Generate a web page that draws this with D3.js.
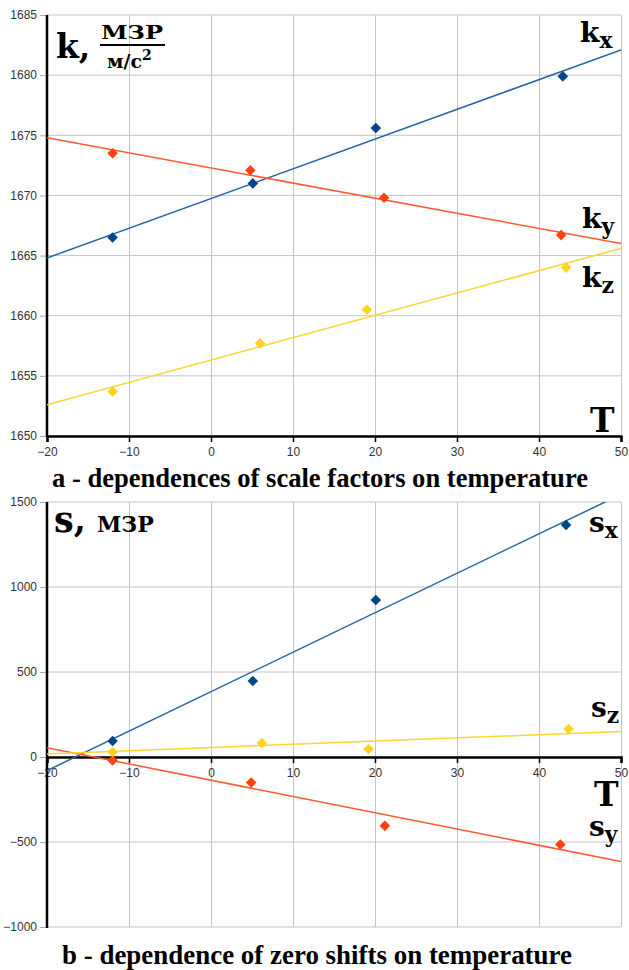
<!DOCTYPE html>
<html>
<head>
<meta charset="utf-8">
<script src="https://cdn.jsdelivr.net/npm/d3@7"></script>
<style>
  body { margin: 0; background: #fff; }
  .tick_label { font-family: "Liberation Sans", Arial, sans-serif; font-size: 12px; fill: #333; }
  .big_label { font-family: "DejaVu Serif", serif; font-weight: bold; fill: #000; }
  .caption { font-family: "Liberation Serif", "Times New Roman", serif; font-weight: bold; fill: #000; }
</style>
</head>
<body>
<div id="scale_zero_charts"></div>
<script>
// temperature axis, shared by both panels
var tempTicks = [-20, -10, 0, 10, 20, 30, 40, 50];
var trendT = [-20, 50];

// panel a - scale factors k (МЗР / м/с2)
var kTicks = [1650, 1655, 1660, 1665, 1670, 1675, 1680, 1685];
var kxT = [-12, 5.1, 20.1, 42.9];
var kxVal = [1666.5, 1671.0, 1675.6, 1679.9];
var kyT = [-12, 4.8, 21.1, 42.7];
var kyVal = [1673.5, 1672.1, 1669.8, 1666.7];
var kzT = [-12, 6.0, 19.0, 43.3];
var kzVal = [1653.7, 1657.7, 1660.5, 1664.0];
var kxTrend = [1664.8, 1682.1];
var kyTrend = [1674.8, 1666.0];
var kzTrend = [1652.6, 1665.6];

// panel b - zero shifts s (МЗР)
var sTicks = [-1000, -500, 0, 500, 1000, 1500];
var sxT = [-12, 5.1, 20.1, 43.3];
var sxVal = [94, 447, 924, 1365];
var syT = [-12, 4.9, 21.2, 42.6];
var syVal = [-20, -150, -405, -515];
var szT = [-12, 6.2, 19.2, 43.6];
var szVal = [29, 82, 47, 165];
var sxTrend = [-80, 1545];
var syTrend = [55, -615];
var szTrend = [18, 150];

var colors = {x: "#004586", y: "#ff420e", z: "#ffd320"};
var lineColors = {x: "#2863a3", y: "#ff5a2e", z: "#ffd62e"};

var svg = d3.select("#scale_zero_charts").append("svg")
    .attr("width", 629)
    .attr("height", 970);

function draw_panel(id, box, yTicks, zeroAxis, series) {
    var x = d3.scaleLinear().domain([-20, 50]).range([box.left, box.right]);
    var y = d3.scaleLinear().domain([yTicks[0], yTicks[yTicks.length-1]]).range([box.bottom, box.top]);
    var g = svg.append("g").attr("class", id);

    // grid
    g.append("g")
        .attr("transform", "translate(0," + box.bottom + ")")
        .call(d3.axisBottom(x).tickValues(tempTicks).tickSize(-(box.bottom - box.top)).tickFormat(""))
        .call(function(a) { a.select(".domain").remove(); })
        .selectAll("line").attr("stroke", "#c4c4c4");
    g.append("g")
        .attr("transform", "translate(" + box.left + ",0)")
        .call(d3.axisLeft(y).tickValues(yTicks).tickSize(7).tickFormat(d3.format("d")).tickPadding(3))
        .call(function(a) { a.select(".domain").remove(); })
        .call(function(a) { a.selectAll("line").attr("stroke", "#aaa"); })
        .call(function(a) {
            a.selectAll("text").attr("class", "tick_label").attr("font-size", null).attr("font-family", null);
        });
    g.append("g")
        .call(function(s) {
            s.selectAll("line").data(yTicks).enter().append("line")
                .attr("x1", box.left).attr("x2", box.right)
                .attr("y1", function(d) { return y(d); }).attr("y2", function(d) { return y(d); })
                .attr("stroke", "#c4c4c4");
        });

    // x axis (black) at the zero / bottom line
    var axisY = y(zeroAxis);
    g.append("g")
        .attr("transform", "translate(0," + axisY + ")")
        .call(d3.axisBottom(x).tickValues(tempTicks).tickSize(6).tickPadding(5).tickFormat(d3.format("d")))
        .call(function(a) { a.select(".domain").attr("stroke", "#000").attr("stroke-width", 2.5); })
        .call(function(a) { a.selectAll("line").attr("stroke", "#000").attr("stroke-width", 1.5); })
        .call(function(a) {
            a.selectAll("text").attr("class", "tick_label").attr("font-size", null).attr("font-family", null);
        });

    // y axis
    g.append("line")
        .attr("x1", box.left).attr("x2", box.left)
        .attr("y1", box.top).attr("y2", box.bottom + 1)
        .attr("stroke", "#000").attr("stroke-width", 2.5);

    g.append("clipPath").attr("id", id + "_clip")
      .append("rect")
        .attr("x", box.left).attr("y", box.top)
        .attr("width", box.right - box.left).attr("height", box.bottom - box.top);

    series.forEach(function(s) {
        g.append("line")
            .attr("clip-path", "url(#" + id + "_clip)")
            .attr("x1", x(trendT[0])).attr("y1", y(s.trend[0]))
            .attr("x2", x(trendT[1])).attr("y2", y(s.trend[1]))
            .attr("stroke", lineColors[s.key])
            .attr("stroke-width", 1.5);
    });
    series.forEach(function(s) {
        g.selectAll(".dot_" + s.key)
            .data(s.t)
          .enter().append("path")
            .attr("d", d3.symbol().type(d3.symbolSquare).size(56))
            .attr("transform", function(d, i) {
                return "translate(" + x(d) + "," + y(s.v[i]) + ") rotate(45)";
            })
            .attr("fill", colors[s.key]);
    });
}

draw_panel("panel_a", {left: 47, right: 621, top: 15, bottom: 436}, kTicks, 1650, [
    {key: "x", t: kxT, v: kxVal, trend: kxTrend},
    {key: "y", t: kyT, v: kyVal, trend: kyTrend},
    {key: "z", t: kzT, v: kzVal, trend: kzTrend}
]);
draw_panel("panel_b", {left: 47, right: 621, top: 502, bottom: 927}, sTicks, 0, [
    {key: "x", t: sxT, v: sxVal, trend: sxTrend},
    {key: "y", t: syT, v: syVal, trend: syTrend},
    {key: "z", t: szT, v: szVal, trend: szTrend}
]);

// series labels like k with subscript x
function sub_label(x, y, main, sub, size) {
    var t = svg.append("text").attr("class", "big_label")
        .attr("x", x).attr("y", y).style("font-size", size + "px");
    t.append("tspan").text(main);
    t.append("tspan").text(sub).attr("dy", size * 0.2).style("font-size", (size * 0.78) + "px");
}

sub_label(580, 42, "k", "x", 28);
sub_label(582, 228, "k", "y", 28);
sub_label(582, 287, "k", "z", 28);
sub_label(589, 532, "s", "x", 28);
sub_label(591, 717, "s", "z", 28);
sub_label(589, 836, "s", "y", 28);

svg.append("text").attr("class", "big_label").attr("x", 590).attr("y", 432).style("font-size", "33px").text("T");
svg.append("text").attr("class", "big_label").attr("x", 594).attr("y", 806).style("font-size", "33px").text("T");

// unit labels
svg.append("text").attr("class", "big_label").attr("x", 56).attr("y", 58).style("font-size", "33px").text("k,");
svg.append("text").attr("class", "big_label").attr("x", 132).attr("y", 39)
    .attr("text-anchor", "middle").style("font-size", "19px")
    .attr("textLength", 62).attr("lengthAdjust", "spacingAndGlyphs").text("МЗР");
svg.append("line").attr("x1", 100).attr("x2", 165).attr("y1", 45).attr("y2", 45)
    .attr("stroke", "#000").attr("stroke-width", 2);
var den = svg.append("text").attr("class", "big_label").attr("x", 107).attr("y", 68).style("font-size", "19px");
den.append("tspan").text("м/с");
den.append("tspan").text("2").attr("dy", -8).style("font-size", "14px");

svg.append("text").attr("class", "big_label").attr("x", 54).attr("y", 532).style("font-size", "35px").text("s,");
svg.append("text").attr("class", "big_label").attr("x", 97).attr("y", 532).style("font-size", "22px").text("МЗР");

// captions
svg.append("text").attr("class", "caption").attr("x", 52).attr("y", 487)
    .style("font-size", "27px").attr("textLength", 536).attr("lengthAdjust", "spacingAndGlyphs")
    .text("a - dependences of scale factors on temperature");
svg.append("text").attr("class", "caption").attr("x", 62).attr("y", 964)
    .style("font-size", "27px").attr("textLength", 510).attr("lengthAdjust", "spacingAndGlyphs")
    .text("b - dependence of zero shifts on temperature");
</script>
</body>
</html>
